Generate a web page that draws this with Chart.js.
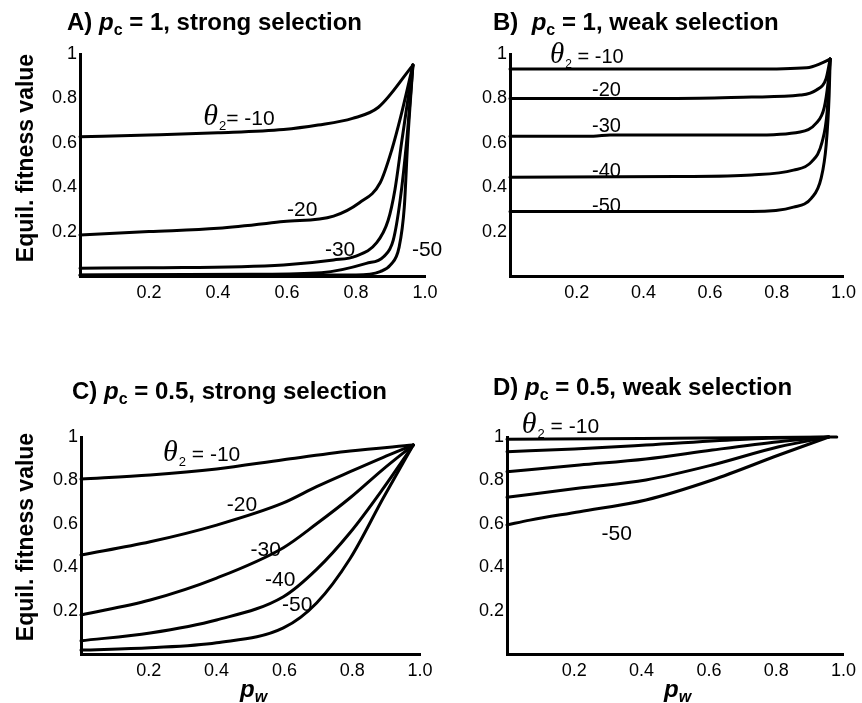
<!DOCTYPE html>
<html>
<head>
<meta charset="utf-8">
<script src="https://cdn.jsdelivr.net/npm/chart.js@4.4.0/dist/chart.umd.min.js"></script>
<style>
  body { margin: 0; background: #fff; }
  #wrap { position: relative; width: 862px; height: 703px; overflow: hidden; }
  #wrap canvas { position: absolute; left: 0; top: 0; }
  .ttl { position: absolute; font: bold 24px 'Liberation Sans', Arial, sans-serif; line-height: 24px; white-space: nowrap; color: #000; }
  .ttl sub { font-size: 16px; line-height: 0; vertical-align: -5px; }
  .ytl { position: absolute; transform: translate(-50%, -50%) rotate(-90deg); font: bold 23px 'Liberation Sans', Arial, sans-serif; white-space: nowrap; }
  .xtl { position: absolute; font: italic bold 24px 'Liberation Sans', Arial, sans-serif; line-height: 24px; white-space: nowrap; }
  .xtl sub { font-size: 16px; line-height: 0; vertical-align: -5px; }
</style>
</head>
<body>
<div id="wrap">
  <canvas id="cA" width="862" height="703"></canvas>
  <canvas id="cB" width="862" height="703"></canvas>
  <canvas id="cC" width="862" height="703"></canvas>
  <canvas id="cD" width="862" height="703"></canvas>

  <div class="ttl" style="left:67px;top:10px">A) <i>p</i><sub>c</sub> = 1, strong selection</div>
  <div class="ttl" style="left:493px;top:10px">B)&nbsp; <i>p</i><sub>c</sub> = 1, weak selection</div>
  <div class="ttl" style="left:72px;top:379px">C) <i>p</i><sub>c</sub> = 0.5, strong selection</div>
  <div class="ttl" style="left:493px;top:375px">D) <i>p</i><sub>c</sub> = 0.5, weak selection</div>

  <div class="ytl" style="left:25px;top:158px">Equil. fitness value</div>
  <div class="ytl" style="left:25px;top:537px">Equil. fitness value</div>

  <div class="xtl" style="left:240px;top:677px">p<sub>w</sub></div>
  <div class="xtl" style="left:664px;top:677px">p<sub>w</sub></div>
</div>

<script>
// valores: [p_w, fitness]
// A) pc = 1, seleccion fuerte
const A_m10 = [[0,0.627],[0.2,0.635],[0.4,0.645],[0.59,0.66],[0.69,0.68],[0.79,0.71],[0.865,0.76],[0.965,0.95]];
const A_m20 = [[0,0.185],[0.2,0.20],[0.4,0.215],[0.59,0.245],[0.735,0.27],[0.81,0.33],[0.87,0.42],[0.904,0.57],[0.93,0.72],[0.965,0.95]];
const A_m30 = [[0,0.035],[0.2,0.037],[0.59,0.05],[0.735,0.072],[0.80,0.09],[0.86,0.15],[0.893,0.25],[0.913,0.39],[0.933,0.61],[0.965,0.95]];
const A_m40 = [[0,0.005],[0.5,0.008],[0.7,0.015],[0.83,0.057],[0.88,0.087],[0.908,0.162],[0.928,0.342],[0.947,0.61],[0.965,0.95]];
const A_m50 = [[0,0.003],[0.8,0.005],[0.87,0.02],[0.9,0.05],[0.925,0.13],[0.94,0.31],[0.95,0.61],[0.965,0.95]];

// B) pc = 1, seleccion debil
const B_m10 = [[0,0.932],[0.4,0.932],[0.725,0.932],[0.89,0.938],[0.936,0.96],[0.96,0.977]];
const B_m20 = [[0,0.80],[0.5,0.80],[0.725,0.806],[0.87,0.815],[0.919,0.838],[0.948,0.89],[0.96,0.977]];
const B_m30 = [[0,0.63],[0.25,0.63],[0.3,0.635],[0.725,0.635],[0.87,0.649],[0.919,0.69],[0.942,0.757],[0.954,0.874],[0.96,0.977]];
const B_m40 = [[0,0.445],[0.5,0.448],[0.725,0.455],[0.85,0.477],[0.904,0.514],[0.936,0.604],[0.951,0.74],[0.96,0.977]];
const B_m50 = [[0,0.29],[0.5,0.29],[0.725,0.29],[0.85,0.31],[0.904,0.351],[0.933,0.441],[0.948,0.59],[0.957,0.815],[0.96,0.977]];

// C) pc = 0.5, seleccion fuerte
const C_m10 = [[0,0.806],[0.204,0.825],[0.40,0.853],[0.597,0.895],[0.794,0.935],[0.98,0.963]];
const C_m20 = [[0,0.456],[0.204,0.517],[0.40,0.594],[0.597,0.696],[0.695,0.771],[0.794,0.84],[0.89,0.905],[0.98,0.963]];
const C_m30 = [[0,0.18],[0.204,0.249],[0.40,0.35],[0.597,0.49],[0.695,0.60],[0.794,0.72],[0.89,0.85],[0.98,0.963]];
const C_m40 = [[0,0.061],[0.204,0.097],[0.40,0.157],[0.597,0.264],[0.695,0.39],[0.794,0.56],[0.89,0.76],[0.98,0.963]];
const C_m50 = [[0,0.018],[0.204,0.029],[0.40,0.052],[0.597,0.12],[0.695,0.235],[0.794,0.44],[0.892,0.72],[0.98,0.963]];

// D) pc = 0.5, seleccion debil
const D_m10 = [[0,0.99],[0.4,0.993],[0.7,0.997],[0.956,1.0],[0.98,1.0]];
const D_m20 = [[0,0.932],[0.2,0.945],[0.413,0.963],[0.709,0.99],[0.956,1.0]];
const D_m30 = [[0,0.84],[0.216,0.871],[0.413,0.899],[0.61,0.94],[0.808,0.978],[0.956,1.0]];
const D_m40 = [[0,0.722],[0.216,0.765],[0.413,0.802],[0.61,0.871],[0.808,0.955],[0.956,1.0]];
const D_m50 = [[0,0.595],[0.068,0.617],[0.216,0.656],[0.413,0.71],[0.61,0.802],[0.808,0.917],[0.956,1.0]];

// etiquetas de las curvas: [p_w, fitness, texto]
const A_labels = [[0.357,0.716,'θ2= -10'],[0.60,0.306,'-20'],[0.71,0.126,'-30'],[0.962,0.126,'-50']];
const B_labels = [[0.12,0.99,'θ2 = -10'],[0.246,0.845,'-20'],[0.246,0.68,'-30'],[0.246,0.477,'-40'],[0.246,0.32,'-50']];
const C_labels = [[0.242,0.926,'θ2 = -10'],[0.43,0.696,'-20'],[0.50,0.488,'-30'],[0.543,0.35,'-40'],[0.593,0.235,'-50']];
const D_labels = [[0.044,1.055,'θ2 = -10'],[0.281,0.562,'-50']];

const fontFam = "'Liberation Sans', Arial, Helvetica, sans-serif";

// dibuja las etiquetas theta sobre las curvas
function labelPlugin(items, size) {
    return {
        id: 'curveLabels',
        afterDatasetsDraw(chart) {
            const ctx = chart.ctx;
            const xs = chart.scales.x;
            const ys = chart.scales.y;
            ctx.save();
            ctx.fillStyle = '#000';
            ctx.textBaseline = 'alphabetic';
            ctx.textAlign = 'left';
            items.forEach(([px, py, txt]) => {
                let x = xs.getPixelForValue(px);
                const y = ys.getPixelForValue(py) + size * 0.36;
                if (txt.startsWith('θ')) {
                    ctx.font = `italic ${size + 9}px 'Liberation Serif', 'Times New Roman', serif`;
                    ctx.fillText('θ', x, y);
                    x += ctx.measureText('θ').width + 1;
                    ctx.font = `${Math.round(size * 0.62)}px ${fontFam}`;
                    ctx.fillText('2', x, y + 5);
                    x += ctx.measureText('2').width;
                    txt = txt.slice(2);
                }
                ctx.font = `${size}px ${fontFam}`;
                ctx.fillText(txt, x, y);
            });
            ctx.restore();
        }
    };
}

function crearPanel(id, curvas, etiquetas, area, labelSize) {
    return new Chart(document.getElementById(id), {
        type: 'scatter',
        data: {
            datasets: curvas.map(pts => ({
                data: pts.map(([x, y]) => ({ x, y })),
                showLine: true,
                borderColor: '#000',
                borderWidth: 3,
                pointRadius: 0,
                cubicInterpolationMode: 'monotone',
                borderCapStyle: 'round',
                borderJoinStyle: 'round',
                clip: false
            }))
        },
        options: {
            responsive: false,
            animation: false,
            events: [],
            layout: {
                padding: { left: 0, top: area.top, right: 862 - area.right, bottom: 703 - area.bottom - 40 }
            },
            plugins: {
                legend: { display: false },
                tooltip: { enabled: false }
            },
            scales: {
                x: {
                    type: 'linear',
                    min: 0,
                    max: 1,
                    afterFit: s => { s.height = 40; },
                    grid: { display: false, drawTicks: false },
                    border: { display: true, color: '#000', width: 3 },
                    ticks: {
                        stepSize: 0.2,
                        autoSkip: false,
                        maxRotation: 0,
                        padding: 6,
                        color: '#000',
                        font: { family: fontFam, size: 18 },
                        callback: v => Math.abs(v) < 1e-9 ? '' : v.toFixed(1)
                    }
                },
                y: {
                    type: 'linear',
                    min: 0,
                    max: 1,
                    afterFit: s => { s.width = area.left; },
                    grid: { display: false, drawTicks: false },
                    border: { display: true, color: '#000', width: 3 },
                    ticks: {
                        stepSize: 0.2,
                        autoSkip: false,
                        padding: 3,
                        color: '#000',
                        font: { family: fontFam, size: 18 },
                        callback: v => Math.abs(v) < 1e-9 ? '' : (Math.abs(v - 1) < 1e-9 ? '1' : v.toFixed(1))
                    }
                }
            }
        },
        plugins: [labelPlugin(etiquetas, labelSize)]
    });
}

crearPanel('cA', [A_m10, A_m20, A_m30, A_m40, A_m50], A_labels, { left: 80, right: 425, top: 54, bottom: 276 }, 21);
crearPanel('cB', [B_m10, B_m20, B_m30, B_m40, B_m50], B_labels, { left: 510, right: 855, top: 54, bottom: 276 }, 20);
crearPanel('cC', [C_m10, C_m20, C_m30, C_m40, C_m50], C_labels, { left: 81, right: 420, top: 437, bottom: 654 }, 21);
crearPanel('cD', [D_m10, D_m20, D_m30, D_m40, D_m50], D_labels, { left: 507, right: 845, top: 437, bottom: 654 }, 21);
</script>
</body>
</html>
